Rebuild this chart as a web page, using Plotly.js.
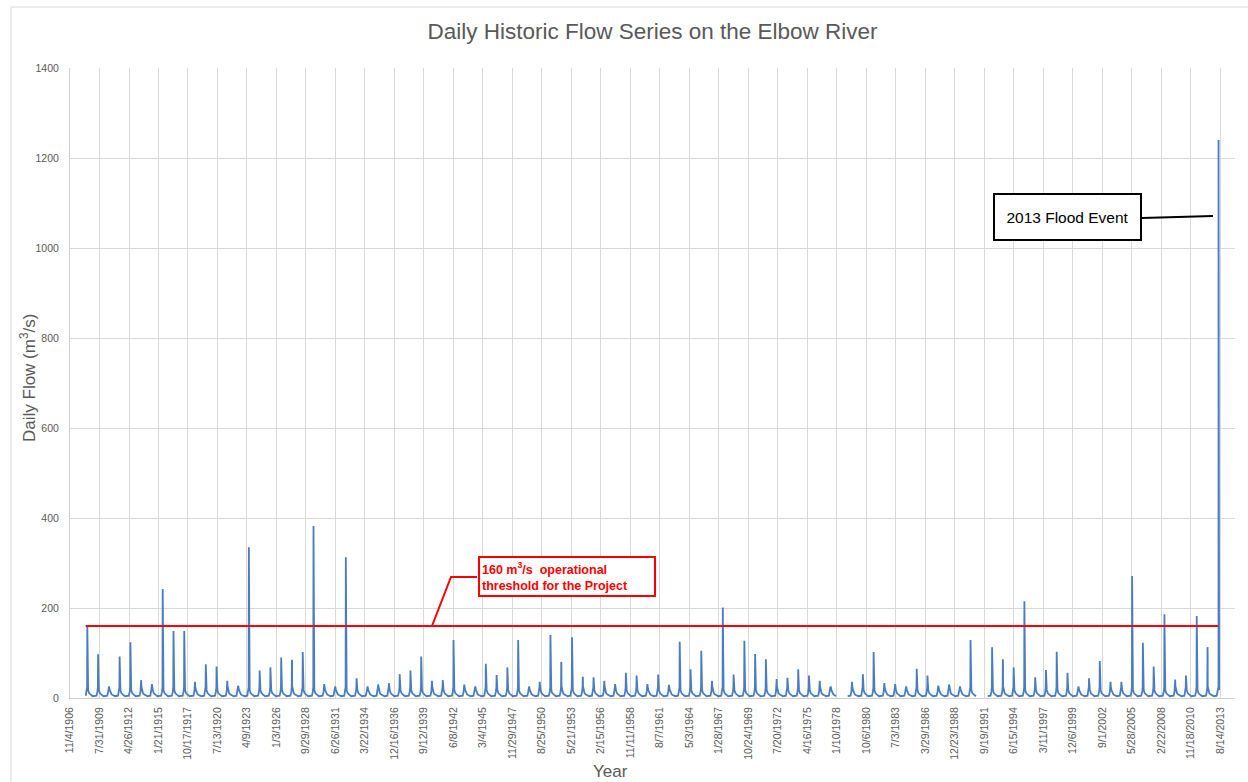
<!DOCTYPE html>
<html>
<head>
<meta charset="utf-8">
<script src="https://cdn.plot.ly/plotly-3.0.1.min.js"></script>
<style>html,body{margin:0;padding:0;background:#fff;}#chart{width:1248px;height:782px;}</style>
</head>
<body>
<div id="chart"></div>
<script>
// ---- Data ----
const tickLabels = ['11/4/1906','7/31/1909','4/26/1912','1/21/1915','10/17/1917','7/13/1920','4/9/1923','1/3/1926',
  '9/29/1928','6/26/1931','3/22/1934','12/16/1936','9/12/1939','6/8/1942','3/4/1945','11/29/1947','8/25/1950',
  '5/21/1953','2/15/1956','11/11/1958','8/7/1961','5/3/1964','1/28/1967','10/24/1969','7/20/1972','4/16/1975',
  '1/10/1978','10/6/1980','7/3/1983','3/29/1986','12/23/1988','9/19/1991','6/15/1994','3/11/1997','12/6/1999',
  '9/1/2002','5/28/2005','2/22/2008','11/18/2010','8/14/2013'];

const years = [1908,1909,1910,1911,1912,1913,1914,1915,1916,1917,1918,1919,1920,1921,1922,1923,1924,1925,1926,1927,
  1928,1929,1930,1931,1932,1933,1934,1935,1936,1937,1938,1939,1940,1941,1942,1943,1944,1945,1946,1947,1948,1949,
  1950,1951,1952,1953,1954,1955,1956,1957,1958,1959,1960,1961,1962,1963,1964,1965,1966,1967,1968,1969,1970,1971,
  1972,1973,1974,1975,1976,1977,1978,1979,1980,1981,1982,1983,1984,1985,1986,1987,1988,1989,1990,1991,1992,1993,
  1994,1995,1996,1997,1998,1999,2000,2001,2002,2003,2004,2005,2006,2007,2008,2009,2010,2011,2012,2013];

// annual peak daily flow (m3/s); null = no record
const annualPeak = [160,97,18,92,124,40,31,242,149,149,36,75,70,38,27,335,61,68,90,85,
  102,382,31,24,313,44,25,30,33,53,61,92,38,40,129,30,25,76,51,68,129,20,
  36,140,80,135,47,46,38,31,56,50,31,52,29,125,64,105,38,201,52,127,98,86,
  42,45,64,50,38,18,null,36,53,102,33,31,24,65,50,27,30,24,129,null,113,86,
  68,215,46,62,103,56,19,44,82,36,36,271,123,70,186,41,50,182,113,1240];

// secondary spikes within the same freshet
const secondYears = [1911,1915,1916,1923,1926,1927,1940,1942,1951,1952,1954,1965,1993,2005,2008,2012];
const secondFlows = [45,58,95,220,68,80,30,94,98,78,45,71,78,219,115,105];

// typical seasonal base flow (month-day, m3/s)
const profileDays  = ['01-15','04-20','05-20','06-05','06-20','07-10','08-10','09-15','11-01','12-15'];
const profileFlows = [4,5,14,24,26,18,11,8,6,4];
const peakDay = '06-12';
const secondDay = '06-17';
const flood2013Day = '06-21';

const threshold = 160;

// ---- Build the series ----
const xs = [], ys = [];
years.forEach((yr, i) => {
  const pk = annualPeak[i];
  if (pk === null) { xs.push(yr + '-' + peakDay); ys.push(null); return; }
  const pd = (yr === 2013) ? flood2013Day : peakDay;
  const si = secondYears.indexOf(yr);
  const last = (yr === 2013);
  profileDays.forEach((d, k) => {
    if (yr === 1908 && d < '04-20') return;
    if (d < pd) { xs.push(yr + '-' + d); ys.push(profileFlows[k]); }
  });
  xs.push(yr + '-' + pd); ys.push(pk);
  if (si >= 0) { xs.push(yr + '-' + secondDay); ys.push(secondFlows[si]); }
  profileDays.forEach((d, k) => {
    if (last && d > '07-10') return;
    if (d > pd && !(si >= 0 && d <= secondDay)) { xs.push(yr + '-' + d); ys.push(profileFlows[k]); }
  });
});

const tickVals = tickLabels.map(s => {
  const [m, d, y] = s.split('/');
  return y + '-' + m.padStart(2, '0') + '-' + d.padStart(2, '0');
});

// ---- pixel helpers for annotation placement ----
const L = 70, R = 13, T = 68, B = 84, W = 1248 - L - R, H = 782 - T - B;
const px = p => (p - L) / W;
const py = p => (782 - B - p) / H;

const font = 'Liberation Sans, Arial, sans-serif';
const grey = '#595959';

const traces = [
  { x: xs, y: ys, type: 'scatter', mode: 'lines', connectgaps: false,
    line: { color: '#4a7dc0', width: 1.8 }, hoverinfo: 'x+y', showlegend: false },
  { x: [xs[0], '2013-' + flood2013Day], y: [threshold, threshold], type: 'scatter', mode: 'lines',
    line: { color: '#ff0000', width: 2 }, hoverinfo: 'skip', showlegend: false }
];

const layout = {
  width: 1248, height: 782,
  margin: { l: L, r: R, t: T, b: B },
  paper_bgcolor: '#ffffff', plot_bgcolor: '#ffffff',
  font: { family: font, color: grey },
  showlegend: false,
  title: { text: 'Daily Historic Flow Series on the Elbow River', font: { size: 22.5, color: grey, family: font },
    x: 0.5, xref: 'paper', y: 1 - 31 / 782, yref: 'container', yanchor: 'middle' },
  xaxis: {
    type: 'date', range: ['1906-11-03', '2014-12-31'],
    tickmode: 'array', tickvals: tickVals, ticktext: tickLabels, tickangle: -90,
    tickfont: { size: 10.5, color: grey }, ticks: '', ticklabelstandoff: 4,
    showgrid: true, gridcolor: '#d9d9d9', gridwidth: 1,
    showline: true, linecolor: '#d0d0d0', linewidth: 1, zeroline: false, fixedrange: true
  },
  yaxis: {
    range: [0, 1400], dtick: 200, tick0: 0,
    tickfont: { size: 10.5, color: grey }, ticks: '', ticklabelstandoff: 8,
    showgrid: true, gridcolor: '#d9d9d9', gridwidth: 1,
    showline: true, linecolor: '#d0d0d0', linewidth: 1, zeroline: false, fixedrange: true
  },
  shapes: [
    { type: 'rect', xref: 'paper', yref: 'paper', x0: px(11), x1: px(1300), y0: py(7), y1: py(820),
      line: { color: '#d9d9d9', width: 1 }, fillcolor: 'rgba(0,0,0,0)', layer: 'below' },
    { type: 'path', xref: 'paper', yref: 'paper',
      path: `M ${px(432)} ${py(626)} L ${px(451)} ${py(577)} L ${px(477)} ${py(577)}`,
      line: { color: '#ff0000', width: 2 } },
    { type: 'line', xref: 'paper', yref: 'paper', x0: px(1142), y0: py(218), x1: px(1213), y1: py(216),
      line: { color: '#000000', width: 2 } }
  ],
  annotations: [
    { xref: 'paper', yref: 'paper', x: px(567), y: py(576.5), xanchor: 'center', yanchor: 'middle',
      text: '<b>160 m<sup>3</sup>/s  operational<br>threshold for the Project</b>', align: 'left',
      showarrow: false, font: { size: 12.5, color: '#ff0000', family: font },
      width: 170, height: 33, borderpad: 2, borderwidth: 2, bordercolor: '#ff0000', bgcolor: '#ffffff' },
    { xref: 'paper', yref: 'paper', x: px(1067.5), y: py(217), xanchor: 'center', yanchor: 'middle',
      text: '2013 Flood Event', align: 'center',
      showarrow: false, font: { size: 15.5, color: '#000000', family: font },
      width: 141, height: 40, borderpad: 2, borderwidth: 2, bordercolor: '#000000', bgcolor: '#ffffff' },
    { xref: 'paper', yref: 'paper', x: px(28), y: py(378), xanchor: 'center', yanchor: 'middle',
      text: 'Daily Flow (m<sup>3</sup>/s)', textangle: -90, showarrow: false,
      font: { size: 17, color: grey, family: font } },
    { xref: 'paper', yref: 'paper', x: px(610), y: py(771), xanchor: 'center', yanchor: 'middle',
      text: 'Year', showarrow: false, font: { size: 17, color: grey, family: font } }
  ]
};

Plotly.newPlot('chart', traces, layout, { displayModeBar: false, staticPlot: true });
</script>
</body>
</html>
